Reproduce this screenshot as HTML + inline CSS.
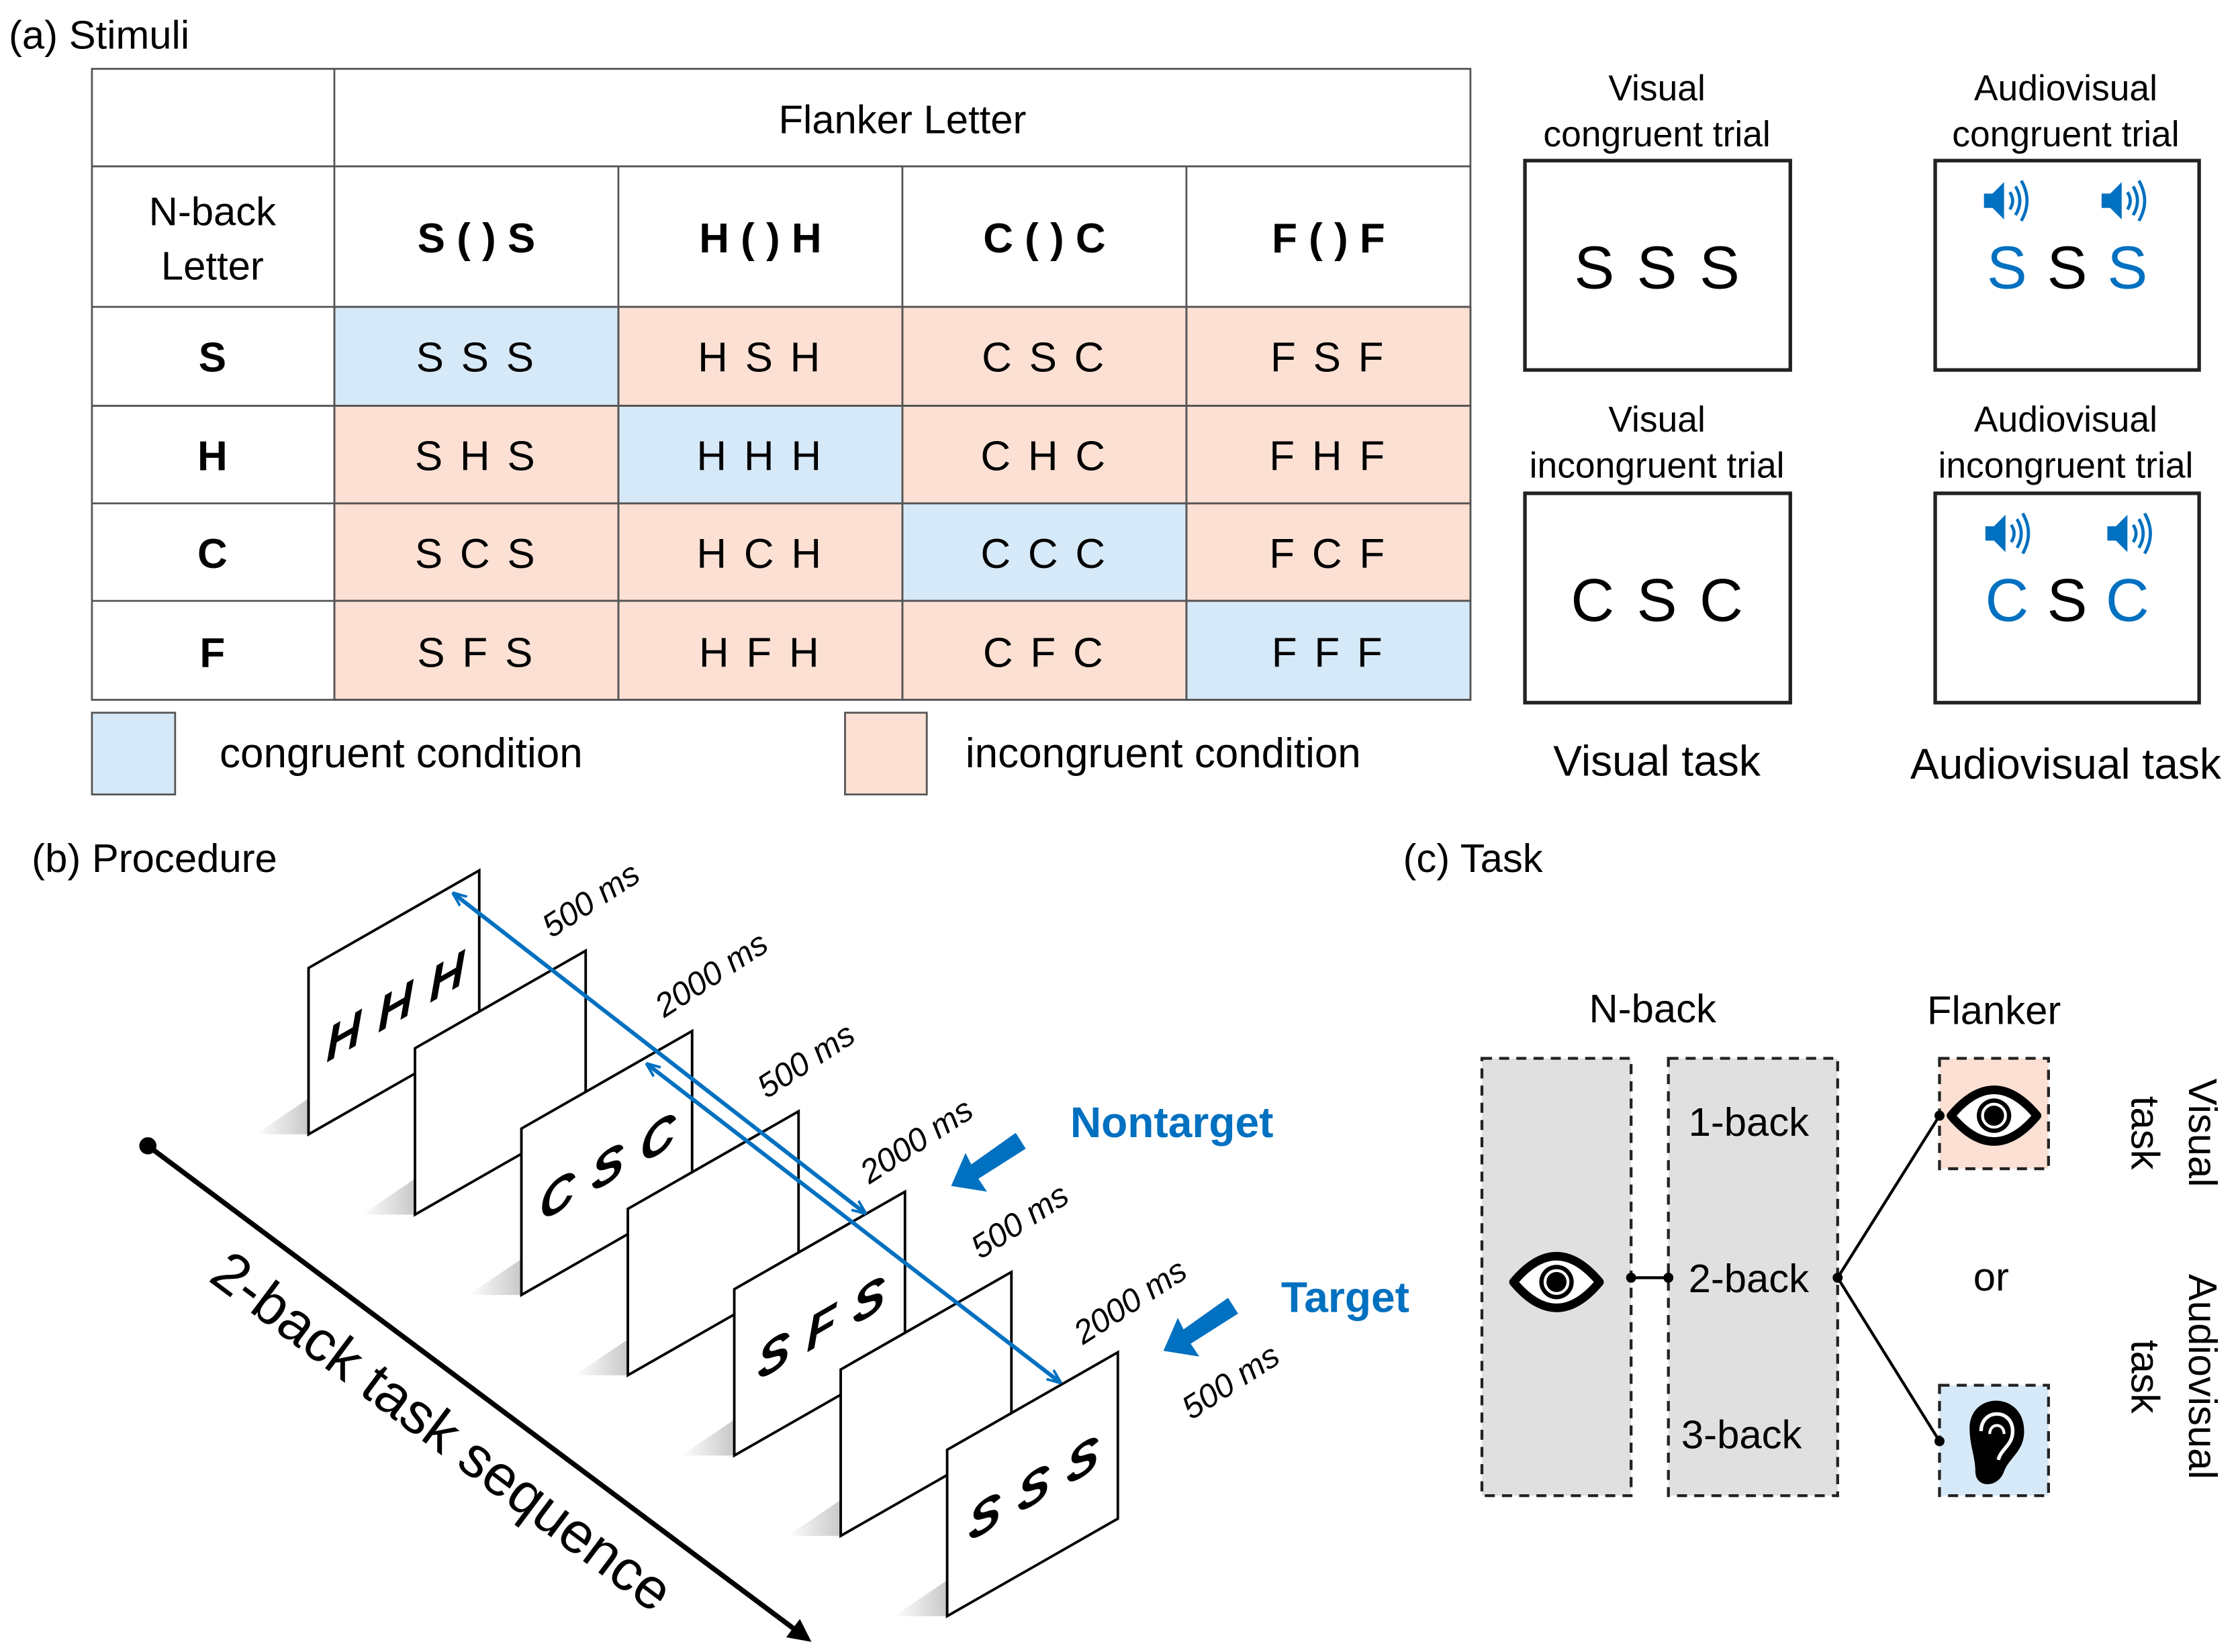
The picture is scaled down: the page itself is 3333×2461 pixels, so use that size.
<!DOCTYPE html>
<html><head><meta charset="utf-8"><style>
html,body{margin:0;padding:0;background:#fff;}
svg{display:block;}
text{font-family:"Liberation Sans",Arial,sans-serif;}
</style></head><body>
<svg width="3333" height="2461" viewBox="0 0 1560 1152" xmlns="http://www.w3.org/2000/svg">
<defs>
<marker id="ah" viewBox="0 0 10 10" refX="9" refY="5" markerWidth="10" markerHeight="10" orient="auto-start-reverse" markerUnits="userSpaceOnUse">
<path d="M0,1 L10,5 L0,9" fill="none" stroke="#0070c0" stroke-width="1.8"/>
</marker>
<marker id="bk" viewBox="0 0 10 10" refX="8" refY="5" markerWidth="16" markerHeight="16" orient="auto" markerUnits="userSpaceOnUse">
<path d="M0,0 L10,5 L0,10 Z" fill="#000"/>
</marker>
<linearGradient id="sh" x1="0" x2="1" y1="0" y2="0">
<stop offset="0" stop-color="#fff"/><stop offset="1" stop-color="#c8c8c8"/>
</linearGradient>
<g id="spk" fill="#0070c0" stroke="#0070c0">
<path d="M-14,-5 L-8,-5 L0,-13 L0,13 L-8,5 L-14,5 Z" stroke="none"/>
<path d="M4,-6 Q8,0 4,6 M8,-10 Q14,0 8,10 M12,-14 Q20,0 12,14" fill="none" stroke-width="2.2"/>
</g>
<g id="eye">
<path d="M-30,0 Q0,-36 30,0 Q0,36 -30,0 Z" fill="#fff" stroke="#000" stroke-width="6" stroke-linejoin="round"/>
<circle r="12" fill="#000"/><circle r="8" fill="none" stroke="#fff" stroke-width="2"/><circle r="6" fill="#000"/>
</g>
<g id="pn">
<polygon points="178,791 215,766 215,791" fill="url(#sh)" stroke="none"/>
<polygon points="215,675 334,607 334,723 215,791" fill="#fff" stroke="#000" stroke-width="1.8"/>
</g>
</defs>

<!-- (a) -->
<text x="6" y="34" font-size="28">(a) Stimuli</text>
<g stroke="#555" stroke-width="1.3">
<rect x="233" y="214" width="198" height="69" fill="#d6e9f8"/>
<rect x="431" y="214" width="198" height="69" fill="#fbe0d3"/>
<rect x="629" y="214" width="198" height="69" fill="#fbe0d3"/>
<rect x="827" y="214" width="198" height="69" fill="#fbe0d3"/>
<rect x="233" y="283" width="198" height="68" fill="#fbe0d3"/>
<rect x="431" y="283" width="198" height="68" fill="#d6e9f8"/>
<rect x="629" y="283" width="198" height="68" fill="#fbe0d3"/>
<rect x="827" y="283" width="198" height="68" fill="#fbe0d3"/>
<rect x="233" y="351" width="198" height="68" fill="#fbe0d3"/>
<rect x="431" y="351" width="198" height="68" fill="#fbe0d3"/>
<rect x="629" y="351" width="198" height="68" fill="#d6e9f8"/>
<rect x="827" y="351" width="198" height="68" fill="#fbe0d3"/>
<rect x="233" y="419" width="198" height="69" fill="#fbe0d3"/>
<rect x="431" y="419" width="198" height="69" fill="#fbe0d3"/>
<rect x="629" y="419" width="198" height="69" fill="#fbe0d3"/>
<rect x="827" y="419" width="198" height="69" fill="#d6e9f8"/>
<rect x="64" y="48" width="961" height="440" fill="none"/>
<line x1="64" y1="116" x2="1025" y2="116"/>
<line x1="64" y1="214" x2="1025" y2="214"/>
<line x1="64" y1="283" x2="1025" y2="283"/>
<line x1="64" y1="351" x2="1025" y2="351"/>
<line x1="64" y1="419" x2="1025" y2="419"/>
<line x1="233" y1="48" x2="233" y2="488"/>
<line x1="431" y1="116" x2="431" y2="488"/>
<line x1="629" y1="116" x2="629" y2="488"/>
<line x1="827" y1="116" x2="827" y2="488"/>
<rect x="64" y="497" width="58" height="57" fill="#d6e9f8"/>
<rect x="589" y="497" width="57" height="57" fill="#fbe0d3"/>
</g>
<g font-size="28" text-anchor="middle">
<text x="629" y="93">Flanker Letter</text>
<text x="148" y="157">N-back</text>
<text x="148" y="195">Letter</text>
</g>
<g font-size="29" font-weight="bold" text-anchor="middle">
<text x="332" y="176">S ( ) S</text><text x="530" y="176">H ( ) H</text><text x="728" y="176">C ( ) C</text><text x="926" y="176">F ( ) F</text>
<text x="148" y="259">S</text><text x="148" y="328">H</text><text x="148" y="396">C</text><text x="148" y="465">F</text>
</g>
<g font-size="29" text-anchor="middle" letter-spacing="2">
<text x="332" y="259">S S S</text><text x="530" y="259">H S H</text><text x="728" y="259">C S C</text><text x="926" y="259">F S F</text>
<text x="332" y="328">S H S</text><text x="530" y="328">H H H</text><text x="728" y="328">C H C</text><text x="926" y="328">F H F</text>
<text x="332" y="396">S C S</text><text x="530" y="396">H C H</text><text x="728" y="396">C C C</text><text x="926" y="396">F C F</text>
<text x="332" y="465">S F S</text><text x="530" y="465">H F H</text><text x="728" y="465">C F C</text><text x="926" y="465">F F F</text>
</g>
<text x="153" y="535" font-size="29">congruent condition</text>
<text x="673" y="535" font-size="29">incongruent condition</text>

<!-- right stimuli boxes -->
<g font-size="25" text-anchor="middle">
<text x="1155" y="70">Visual</text><text x="1155" y="102">congruent trial</text>
<text x="1440" y="70">Audiovisual</text><text x="1440" y="102">congruent trial</text>
<text x="1155" y="301">Visual</text><text x="1155" y="333">incongruent trial</text>
<text x="1440" y="301">Audiovisual</text><text x="1440" y="333">incongruent trial</text>
</g>
<g fill="#fff" stroke="#222" stroke-width="2.5">
<rect x="1063" y="112" width="185" height="146"/>
<rect x="1349" y="112" width="184" height="146"/>
<rect x="1063" y="344" width="185" height="146"/>
<rect x="1349" y="344" width="184" height="146"/>
</g>
<g font-size="42" text-anchor="middle">
<text x="1156" y="201" letter-spacing="2">S S S</text>
<text x="1156" y="433" letter-spacing="2">C S C</text>
<text x="1399" y="201" fill="#0070c0">S</text><text x="1441" y="201">S</text><text x="1483" y="201" fill="#0070c0">S</text>
<text x="1399" y="433" fill="#0070c0">C</text><text x="1441" y="433">S</text><text x="1483" y="433" fill="#0070c0">C</text>
</g>
<use href="#spk" x="1397" y="140"/>
<use href="#spk" x="1479" y="140"/>
<use href="#spk" x="1398" y="372"/>
<use href="#spk" x="1483" y="372"/>
<g font-size="30" text-anchor="middle">
<text x="1155" y="541">Visual task</text>
<text x="1440" y="543">Audiovisual task</text>
</g>

<!-- (b) -->
<text x="22" y="608" font-size="28">(b) Procedure</text>
<use href="#pn"/>
<use href="#pn" x="74.2" y="56"/>
<use href="#pn" x="148.4" y="112"/>
<use href="#pn" x="222.6" y="168"/>
<use href="#pn" x="296.8" y="224"/>
<use href="#pn" x="371" y="280"/>
<use href="#pn" x="445.2" y="336"/>
<g font-size="34" font-weight="bold" font-style="italic" text-anchor="middle" letter-spacing="1">
<text transform="translate(276,713) skewY(-30)">H H H</text>
<text transform="translate(424,825) skewY(-30)">C S C</text>
<text transform="translate(573,937) skewY(-30)">S F S</text>
<text transform="translate(721,1049) skewY(-30)">S S S</text>
</g>
<g stroke="#0070c0" stroke-width="2.8" marker-start="url(#ah)" marker-end="url(#ah)">
<line x1="316" y1="623" x2="603" y2="846"/>
<line x1="451" y1="742" x2="739" y2="964"/>
</g>
<g font-size="23" font-style="italic" text-anchor="middle">
<text transform="translate(416,634) rotate(-33)">500 ms</text>
<text transform="translate(500,686) rotate(-33)">2000 ms</text>
<text transform="translate(566,746) rotate(-33)">500 ms</text>
<text transform="translate(643,802) rotate(-33)">2000 ms</text>
<text transform="translate(715,858) rotate(-33)">500 ms</text>
<text transform="translate(792,914) rotate(-33)">2000 ms</text>
<text transform="translate(862,970) rotate(-33)">500 ms</text>
</g>
<g fill="#0070c0">
<text x="746" y="793" font-size="30" font-weight="bold">Nontarget</text>
<text x="893" y="915" font-size="30" font-weight="bold">Target</text>
<polygon points="708,790 715,801 682,822 688,831 663,827 673,804 677,812"/>
<polygon points="856,905 863,916 830,937 836,946 811,942 821,919 825,927"/>
</g>
<circle cx="103" cy="799" r="6" fill="#000"/>
<line x1="103" y1="799" x2="563" y2="1143" stroke="#000" stroke-width="3.5" marker-end="url(#bk)"/>
<text transform="translate(300,1009) rotate(36.8)" font-size="40" text-anchor="middle">2-back task sequence</text>

<!-- (c) -->
<text x="978" y="608" font-size="28">(c) Task</text>
<g font-size="28" text-anchor="middle">
<text x="1152" y="713">N-back</text>
<text x="1390" y="714">Flanker</text>
</g>
<g stroke="#222" stroke-width="2" stroke-dasharray="7,5">
<rect x="1033" y="738" width="104" height="305" fill="#e0e0e0"/>
<rect x="1163" y="738" width="118" height="305" fill="#e0e0e0"/>
<rect x="1352" y="738" width="76" height="77" fill="#fbe0d3"/>
<rect x="1352" y="966" width="76" height="77" fill="#d6e9f8"/>
</g>
<g font-size="28" text-anchor="middle">
<text x="1219" y="792">1-back</text>
<text x="1219" y="901">2-back</text>
<text x="1214" y="1010">3-back</text>
<text x="1388" y="900">or</text>
</g>
<g stroke="#000" stroke-width="2">
<line x1="1137" y1="891" x2="1163" y2="891"/>
<line x1="1281" y1="891" x2="1352" y2="778"/>
<line x1="1281" y1="891" x2="1352" y2="1005"/>
</g>
<g fill="#000">
<circle cx="1137" cy="891" r="3.5"/><circle cx="1163" cy="891" r="3.5"/><circle cx="1281" cy="891" r="3.5"/>
<circle cx="1352" cy="778" r="3.5"/><circle cx="1352" cy="1005" r="3.5"/>
</g>
<use href="#eye" x="1085" y="894"/>
<use href="#eye" x="1390" y="778"/>
<g transform="translate(1391,1004)">
<path d="M-18,-8 C-18,-34 20,-34 20,-6 C20,8 10,12 6,22 C2,34 -14,34 -14,22 C-14,12 -18,4 -18,-8 Z" fill="#000"/>
<path d="M-10,-6 C-10,-22 12,-22 12,-6 C12,4 4,6 2,14" fill="none" stroke="#fff" stroke-width="2.5"/>
<path d="M-4,-4 C-4,-12 6,-12 6,-4" fill="none" stroke="#fff" stroke-width="2"/>
</g>
<g font-size="28" text-anchor="middle">
<text transform="translate(1526,790) rotate(90)">Visual</text>
<text transform="translate(1486,790) rotate(90)">task</text>
<text transform="translate(1526,960) rotate(90)">Audiovisual</text>
<text transform="translate(1486,960) rotate(90)">task</text>
</g>
</svg>
</body></html>
